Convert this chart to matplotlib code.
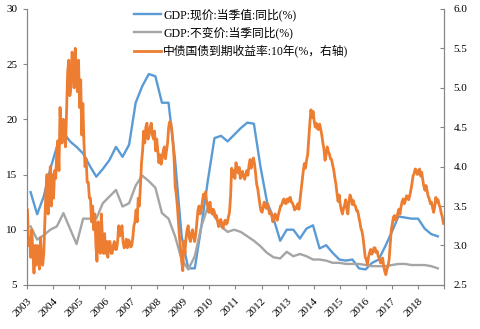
import numpy as np
import matplotlib
matplotlib.use("Agg")
from matplotlib import pyplot as plt

# quarterly GDP yoy (%), 2003Q1 .. 2018Q3
gdp_nominal = [13.4, 11.4, 13.0, 15.5,
               17.5, 18.8, 18.0, 17.5,
               16.9, 15.8, 14.8, 15.5,
               16.3, 17.5, 16.6, 17.7,
               21.5, 23.0, 24.1, 23.9,
               21.5, 21.5, 16.3, 9.4,
               6.5, 6.5, 10.3, 14.5,
               18.3, 18.5, 18.0, 18.6,
               19.2, 19.7, 19.6, 15.7,
               12.5, 11.0, 9.0, 10.0,
               10.0, 9.2, 10.1, 10.4,
               8.3, 8.6, 7.9, 7.3,
               7.2, 7.3, 6.5, 6.4,
               7.0, 7.3, 8.5, 9.8,
               11.2, 11.1, 11.0, 11.0,
               10.1, 9.6, 9.4]
gdp_real = [10.3, 9.1, 9.5, 10.0,
            10.3, 11.5, 10.1, 8.7,
            11.0, 11.0, 11.0, 12.4,
            13.0, 13.6, 12.1, 12.4,
            14.0, 14.9, 14.4, 13.8,
            11.5, 11.0, 9.4, 7.3,
            6.4, 7.6, 10.3, 12.1,
            11.2, 10.3, 9.8, 10.0,
            9.8, 9.4, 9.0, 8.5,
            7.9, 7.5, 7.4, 8.0,
            7.6, 7.8, 7.6, 7.3,
            7.3, 7.2, 7.0, 7.0,
            6.9, 6.9, 6.9, 6.8,
            6.7, 6.7, 6.7, 6.8,
            6.9, 6.9, 6.8, 6.8,
            6.8, 6.7, 6.5]

# half-monthly 10Y CGB yield (%), one row per year 2003 .. 2018
bond_10y = [
    3.45, 3.00, 3.10, 2.85, 3.20, 2.90, 2.65, 3.00, 2.75, 3.00, 2.90, 2.70, 3.10, 2.80, 2.75, 2.90, 3.30, 3.70, 3.90, 3.40, 3.60, 4.00, 3.50, 3.90,
    3.60, 3.95, 3.85, 4.20, 4.33, 3.95, 4.75, 4.30, 4.30, 4.60, 4.50, 4.25, 4.70, 5.20, 5.35, 4.90, 5.00, 5.45, 5.40, 5.00, 5.50, 5.10, 4.95, 5.35,
    4.75, 5.10, 4.40, 4.80, 4.30, 4.00, 4.10, 3.80, 3.80, 3.60, 3.60, 3.30, 3.50, 3.20, 3.40, 3.00, 2.80, 3.30, 3.20, 2.90, 3.40, 3.10, 2.90, 3.15,
    2.90, 3.05, 2.85, 3.05, 3.05, 2.90, 2.90, 3.00, 3.05, 2.95, 2.95, 3.05, 3.25, 3.12, 3.15, 3.25, 3.05, 2.97, 3.00, 3.08, 2.97, 3.07, 3.05, 2.98,
    3.00, 3.10, 3.25, 3.30, 3.45, 3.30, 3.60, 3.50, 3.75, 4.05, 4.20, 4.45, 4.30, 4.50, 4.55, 4.35, 4.40, 4.50, 4.55, 4.40, 4.35, 4.45, 4.20, 4.35,
    4.20, 4.05, 4.15, 4.03, 4.10, 4.20, 4.25, 4.10, 4.20, 4.30, 4.50, 4.57, 4.55, 4.45, 4.30, 4.10, 3.75, 3.65, 3.50, 3.30, 3.10, 2.95, 2.80, 2.68,
    3.05, 2.90, 3.10, 3.20, 3.25, 3.10, 3.05, 3.15, 3.20, 3.10, 3.05, 3.15, 3.30, 3.45, 3.50, 3.40, 3.45, 3.55, 3.65, 3.60, 3.68, 3.55, 3.50, 3.42,
    3.55, 3.45, 3.40, 3.46, 3.43, 3.36, 3.38, 3.31, 3.24, 3.30, 3.33, 3.27, 3.22, 3.28, 3.32, 3.27, 3.29, 3.36, 3.42, 3.62, 3.98, 3.88, 3.95, 3.85,
    4.05, 3.98, 3.92, 3.99, 3.85, 3.92, 3.94, 3.87, 3.84, 3.90, 3.95, 3.89, 4.02, 4.09, 3.98, 4.06, 4.11, 4.04, 3.92, 3.78, 3.72, 3.62, 3.52, 3.44,
    3.42, 3.48, 3.55, 3.49, 3.47, 3.53, 3.46, 3.40, 3.43, 3.37, 3.30, 3.36, 3.40, 3.35, 3.32, 3.39, 3.44, 3.50, 3.51, 3.56, 3.59, 3.54, 3.53, 3.59,
    3.55, 3.60, 3.61, 3.55, 3.54, 3.50, 3.45, 3.49, 3.47, 3.53, 3.46, 3.58, 3.70, 3.82, 3.95, 4.04, 3.98, 4.08, 4.15, 4.35, 4.55, 4.72, 4.62, 4.70,
    4.58, 4.50, 4.55, 4.48, 4.47, 4.54, 4.48, 4.40, 4.30, 4.22, 4.08, 4.15, 4.25, 4.19, 4.16, 4.10, 4.09, 4.02, 3.96, 3.86, 3.78, 3.66, 3.56, 3.64,
    3.52, 3.45, 3.40, 3.47, 3.51, 3.58, 3.46, 3.40, 3.56, 3.64, 3.60, 3.52, 3.57, 3.51, 3.50, 3.44, 3.44, 3.37, 3.30, 3.22, 3.18, 3.10, 2.98, 2.85,
    2.82, 2.76, 2.85, 2.91, 2.95, 2.89, 2.91, 2.97, 2.97, 2.91, 2.93, 2.86, 2.84, 2.78, 2.78, 2.84, 2.74, 2.67, 2.63, 2.70, 2.74, 2.82, 3.02, 3.20,
    3.28, 3.36, 3.38, 3.32, 3.34, 3.41, 3.46, 3.40, 3.49, 3.56, 3.59, 3.53, 3.57, 3.63, 3.62, 3.58, 3.63, 3.70, 3.78, 3.88, 3.91, 3.97, 3.96, 3.90,
    3.92, 3.97, 3.88, 3.93, 3.83, 3.75, 3.70, 3.76, 3.69, 3.62, 3.59, 3.53, 3.55, 3.48, 3.42, 3.49, 3.61, 3.55, 3.58, 3.52, 3.48, 3.41, 3.36, 3.28,
]

years = list(range(2003, 2019))
labels = ["GDP:现价:当季值:同比(%)", "GDP:不变价:当季同比(%)", "中债国债到期收益率:10年(%，右轴)"]

c_blue = "#5B9BD5"
c_grey = "#A5A5A5"
c_orange = "#ED7D31"
c_axis = "#868686"

plt.rcParams["font.family"] = ["Liberation Serif", "Noto Sans CJK SC"]

x_q = 2003.14 + 0.252 * np.arange(len(gdp_nominal))
x_m = 2003 + (np.arange(len(bond_10y)) + 0.5) / 24

fig = plt.figure(figsize=(4.81, 3.29), dpi=100)
ax = fig.add_axes([0.056, 0.134, 0.867, 0.839])
ax2 = ax.twinx()

l1, = ax.plot(x_q, gdp_nominal, color=c_blue, lw=1.7)
l2, = ax.plot(x_q, gdp_real, color=c_grey, lw=1.7)
l3, = ax2.plot(x_m, bond_10y, color=c_orange, lw=2.0)

ax.set_xlim(2003, 2019)
ax.set_ylim(5, 30)
ax2.set_ylim(2.5, 6.0)
ax.set_yticks(range(5, 31, 5))
ax2.set_yticks(np.arange(2.5, 6.01, 0.5))
ax2.set_yticklabels([f"{v:.1f}" for v in np.arange(2.5, 6.01, 0.5)])
ax.set_xticks(range(2003, 2020))
ax.set_xticklabels([str(y) for y in years] + [""])

for a in (ax, ax2):
    for s in a.spines.values():
        s.set_color(c_axis)
        s.set_linewidth(0.8)
    a.spines["top"].set_visible(False)
ax.tick_params(axis="y", length=3, color=c_axis, labelsize=8, pad=4)
ax2.tick_params(axis="y", direction="in", length=3, color=c_axis, labelsize=8, pad=7)
ax.tick_params(axis="x", length=3, color=c_axis, labelsize=8, pad=5)
for t in ax.get_xticklabels():
    t.set_rotation(45)
    t.set_ha("right")
    t.set_rotation_mode("anchor")

ax2.legend([l1, l2, l3], labels, loc="upper left", bbox_to_anchor=(0.245, 1.02),
           frameon=False, fontsize=8.5, handlelength=2.3, handletextpad=0.2,
           labelspacing=0.5, borderaxespad=0)

fig.savefig("out.png", dpi=100)
